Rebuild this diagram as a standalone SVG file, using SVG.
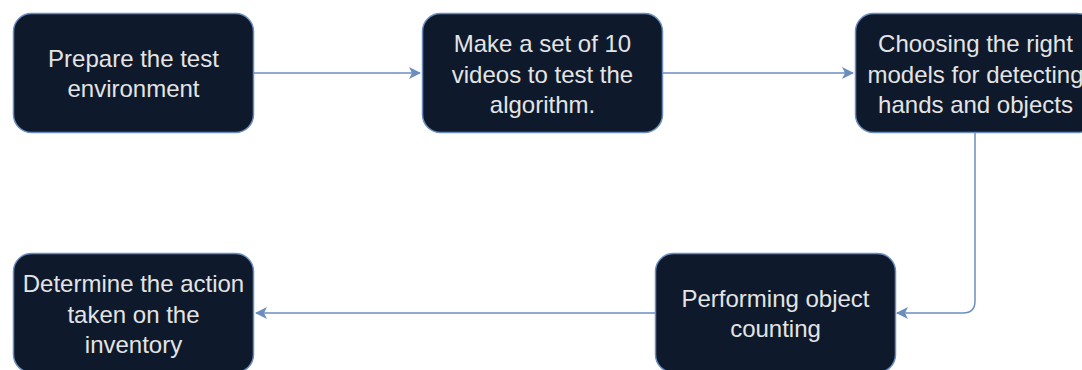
<svg xmlns="http://www.w3.org/2000/svg" width="1082" height="370" viewBox="0 0 1082 370">
<style>
.node rect{fill:#0e1a2c;stroke:#6c8ebf;stroke-width:1.5}
.node text{fill:#e4e4e4;font-family:"Liberation Sans",Arial,sans-serif;font-size:24px;text-anchor:middle}
.edge{fill:none;stroke:#6c8ebf;stroke-width:1.5}
</style>
<defs>
<marker id="arr" viewBox="0 0 12 12" refX="11" refY="6" markerWidth="12" markerHeight="12" markerUnits="userSpaceOnUse" orient="auto">
<path d="M0,0 L12,6 L0,12 L3,6 Z" fill="#6c8ebf"/>
</marker>
</defs>
<g id="connectors">
<path class="edge" d="M254,73 L420,73" marker-end="url(#arr)"/>
<path class="edge" d="M663,73 L853,73" marker-end="url(#arr)"/>
<path class="edge" d="M975,133 L975,301 Q975,313 963,313 L897,313" marker-end="url(#arr)"/>
<path class="edge" d="M655,313 L256,313" marker-end="url(#arr)"/>
</g>
<g id="n1" class="node">
<rect x="13.5" y="13.5" width="240" height="119" rx="18"/>
<text x="133.5" y="66.5">Prepare the test</text>
<text x="133.5" y="97">environment</text>
</g>
<g id="n2" class="node">
<rect x="422.5" y="13.5" width="240" height="119" rx="18"/>
<text x="542.5" y="52">Make a set of 10</text>
<text x="542.5" y="82.5">videos to test the</text>
<text x="542.5" y="113">algorithm.</text>
</g>
<g id="n3" class="node">
<rect x="855.5" y="13.5" width="240" height="119" rx="18"/>
<text x="975.5" y="52">Choosing the right</text>
<text x="975.5" y="82.5">models for detecting</text>
<text x="975.5" y="113">hands and objects</text>
</g>
<g id="n4" class="node">
<rect x="655.5" y="253.5" width="240" height="119" rx="18"/>
<text x="775.5" y="306.5">Performing object</text>
<text x="775.5" y="337">counting</text>
</g>
<g id="n5" class="node">
<rect x="13.5" y="253.5" width="240" height="119" rx="18"/>
<text x="133.5" y="292">Determine the action</text>
<text x="133.5" y="322.5">taken on the</text>
<text x="133.5" y="353">inventory</text>
</g>
</svg>
